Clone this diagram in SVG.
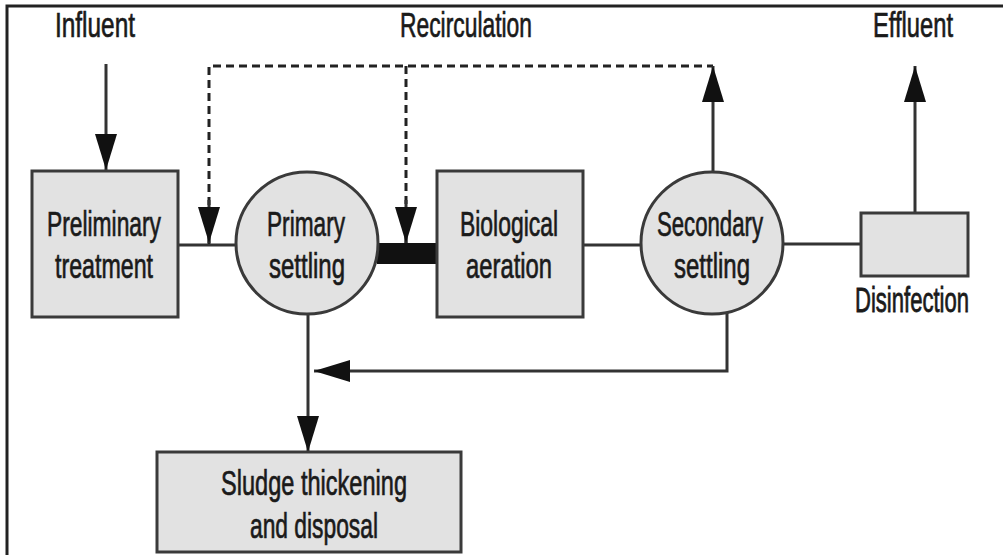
<svg xmlns="http://www.w3.org/2000/svg" width="1003" height="555" viewBox="0 0 1003 555">
<style>
.bg{fill:#ffffff}
.frame{stroke:#222;stroke-width:3;fill:none}
.box{fill:#e2e2e2;stroke:#3a3a3a;stroke-width:3}
.ln{stroke:#333;stroke-width:3;fill:none}
.dash{stroke:#222;stroke-width:3;fill:none;stroke-dasharray:8 5}
.t{font-family:"Liberation Sans",Arial,sans-serif;font-size:35px;fill:#1a1a1a;stroke:#1a1a1a;stroke-width:0.7;text-anchor:middle}
</style>
<defs>
<marker id="ah" markerUnits="userSpaceOnUse" markerWidth="38" markerHeight="24" refX="36" refY="11" orient="auto">
<path d="M0,0 L36,11 L0,22 z" fill="#111"/>
</marker>
</defs>
<rect class="bg" x="0" y="0" width="1003" height="555"/>
<g id="frame">
<path class="frame" d="M7,555 L7,6 L1003,6"/>
</g>
<g id="connectors">
<line class="ln" x1="106" y1="64" x2="106" y2="170" marker-end="url(#ah)"/>
<line class="ln" x1="178" y1="245" x2="237" y2="245"/>
<path class="dash" d="M209,244 L209,66 L713,66"/>
<line class="dash" x1="406" y1="66" x2="406" y2="243"/>
<line class="ln" x1="209" y1="200" x2="209" y2="243" marker-end="url(#ah)"/>
<line class="ln" x1="406" y1="200" x2="406" y2="243" marker-end="url(#ah)"/>
<rect x="377" y="243" width="61" height="21" fill="#111"/>
<line class="ln" x1="583" y1="245" x2="641" y2="245"/>
<line class="ln" x1="713" y1="171" x2="713" y2="66" marker-end="url(#ah)"/>
<line class="ln" x1="783" y1="244" x2="861" y2="244"/>
<line class="ln" x1="915" y1="213" x2="915" y2="66" marker-end="url(#ah)"/>
<line class="ln" x1="308" y1="314" x2="308" y2="452" marker-end="url(#ah)"/>
<path class="ln" d="M727,313 L727,371 L314,371" marker-end="url(#ah)"/>
</g>
<g id="labels">
<text class="t" x="95" y="37" textLength="80" lengthAdjust="spacingAndGlyphs">Influent</text>
<text class="t" x="466" y="37" textLength="132" lengthAdjust="spacingAndGlyphs">Recirculation</text>
<text class="t" x="913" y="37" textLength="80" lengthAdjust="spacingAndGlyphs">Effluent</text>
</g>
<g id="preliminary">
<rect class="box" x="32" y="171" width="146" height="146"/>
<text class="t" x="104" y="236" textLength="114" lengthAdjust="spacingAndGlyphs">Preliminary</text>
<text class="t" x="104" y="278" textLength="98" lengthAdjust="spacingAndGlyphs">treatment</text>
</g>
<g id="primary">
<circle class="box" cx="307" cy="243" r="71"/>
<text class="t" x="306" y="236" textLength="78" lengthAdjust="spacingAndGlyphs">Primary</text>
<text class="t" x="307" y="278" textLength="76" lengthAdjust="spacingAndGlyphs">settling</text>
</g>
<g id="biological">
<rect class="box" x="437" y="171" width="146" height="146"/>
<text class="t" x="509" y="236" textLength="98" lengthAdjust="spacingAndGlyphs">Biological</text>
<text class="t" x="509" y="278" textLength="86" lengthAdjust="spacingAndGlyphs">aeration</text>
</g>
<g id="secondary">
<circle class="box" cx="712" cy="243" r="71"/>
<text class="t" x="710" y="236" textLength="106" lengthAdjust="spacingAndGlyphs">Secondary</text>
<text class="t" x="712" y="278" textLength="76" lengthAdjust="spacingAndGlyphs">settling</text>
</g>
<g id="disinfection">
<rect class="box" x="861" y="213" width="107" height="63"/>
<text class="t" transform="translate(912,312) scale(1,1.6)" x="0" y="0" style="font-size:22px;stroke-width:0.5" textLength="114" lengthAdjust="spacingAndGlyphs">Disinfection</text>
</g>
<g id="sludge">
<rect class="box" x="157" y="452" width="304" height="100"/>
<text class="t" x="314" y="495" textLength="186" lengthAdjust="spacingAndGlyphs">Sludge thickening</text>
<text class="t" x="314" y="538" textLength="128" lengthAdjust="spacingAndGlyphs">and disposal</text>
</g>
</svg>
